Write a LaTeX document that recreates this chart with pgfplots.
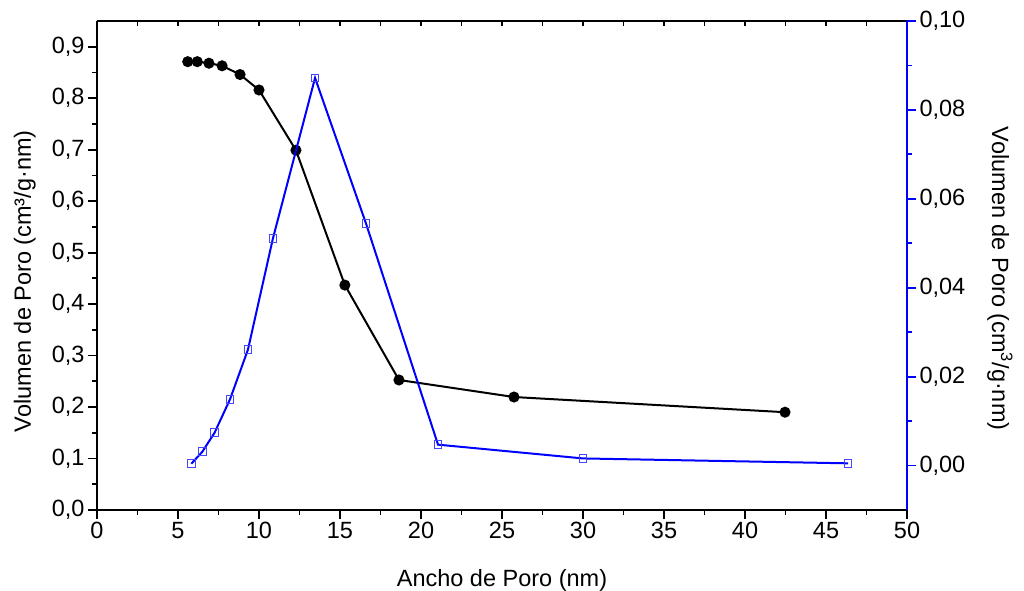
\documentclass[border=0pt]{standalone}
\usepackage{fontspec}
\setmainfont{Liberation Sans}
\usepackage{pgfplots}
\pgfplotsset{compat=1.18}
\begin{document}
\begin{tikzpicture}
\pgfplotsset{
  common/.style={
    scale only axis, width=810pt, height=489pt,
    xmin=0, xmax=50,
    at={(0,0)}, anchor=south west,
    font=\fontsize{23.5}{27}\selectfont,
    /pgf/number format/assume math mode=true,
    axis line style={line width=2pt},
    major tick length=9pt, minor tick length=5pt,
    every tick/.style={line width=1.8pt},
    xtick={0,5,10,15,20,25,30,35,40,45,50},
    minor x tick num=1,
  }
}
% main axis: bottom and left
\begin{axis}[common,
  ymin=0, ymax=0.95,
  axis x line*=bottom, axis y line*=left,
  tick align=outside,
  ytick={0,0.1,0.2,0.3,0.4,0.5,0.6,0.7,0.8,0.9},
  minor y tick num=1,
  yticklabel style={/pgf/number format/.cd,fixed,fixed zerofill,precision=1,use comma},
  xlabel={Ancho de Poro (nm)},
  ylabel={Volumen de Poro (cm³/g·nm)},
  xlabel style={at={(axis description cs:0.5,-0.143)}, anchor=center},
  ylabel style={at={(axis description cs:-0.089,0.468)}, anchor=center},
]
\addplot[black, line width=2pt, mark=*, mark size=4.5pt, mark options={fill=black, solid}] coordinates {
(5.6,0.871) (6.19,0.871) (6.91,0.868) (7.72,0.863) (8.83,0.846) (10.0,0.816)
(12.28,0.699) (15.3,0.437) (18.64,0.2526) (25.74,0.2195) (42.47,0.190)
};
\end{axis}
% top axis ticks (inside)
\begin{axis}[common,
  ymin=0, ymax=0.95,
  axis x line*=top, hide y axis,
  tick align=inside,
  xticklabels={},
  major tick length=5pt, minor tick length=5pt,
]
\end{axis}
% right axis (blue)
\begin{axis}[common,
  ymin=-0.01, ymax=0.10,
  axis y line*=right, hide x axis,
  tick align=outside,
  ytick={0,0.02,0.04,0.06,0.08,0.10},
  minor y tick num=1,
  y axis line style={blue},
  every y tick/.style={blue, line width=1.8pt},
  every minor y tick/.style={blue, line width=1.8pt},
  yticklabel style={/pgf/number format/.cd,fixed,fixed zerofill,precision=2,use comma},
  ylabel={Volumen de Poro (cm\textsuperscript{3}/g·nm)},
  ylabel style={at={(axis description cs:1.1148,0.473)}, anchor=center, rotate=180},
]
\addplot[color={rgb,255:red,0;green,0;blue,255}, line width=2pt, mark=square, mark size=3.8pt, mark options={draw={rgb,255:red,70;green,70;blue,255}, fill=white, line width=1pt, solid}] coordinates {
(5.82,0.0004) (6.5,0.0031) (7.26,0.0074) (8.21,0.0149) (9.32,0.0261) (10.86,0.0511)
(13.46,0.0872) (16.6,0.0545) (21.05,0.0047) (30.0,0.0016) (46.36,0.0005)
};
\end{axis}
\pgfresetboundingbox
\useasboundingbox (-97pt,-80pt) rectangle (927pt,510pt);
\end{tikzpicture}
\end{document}
